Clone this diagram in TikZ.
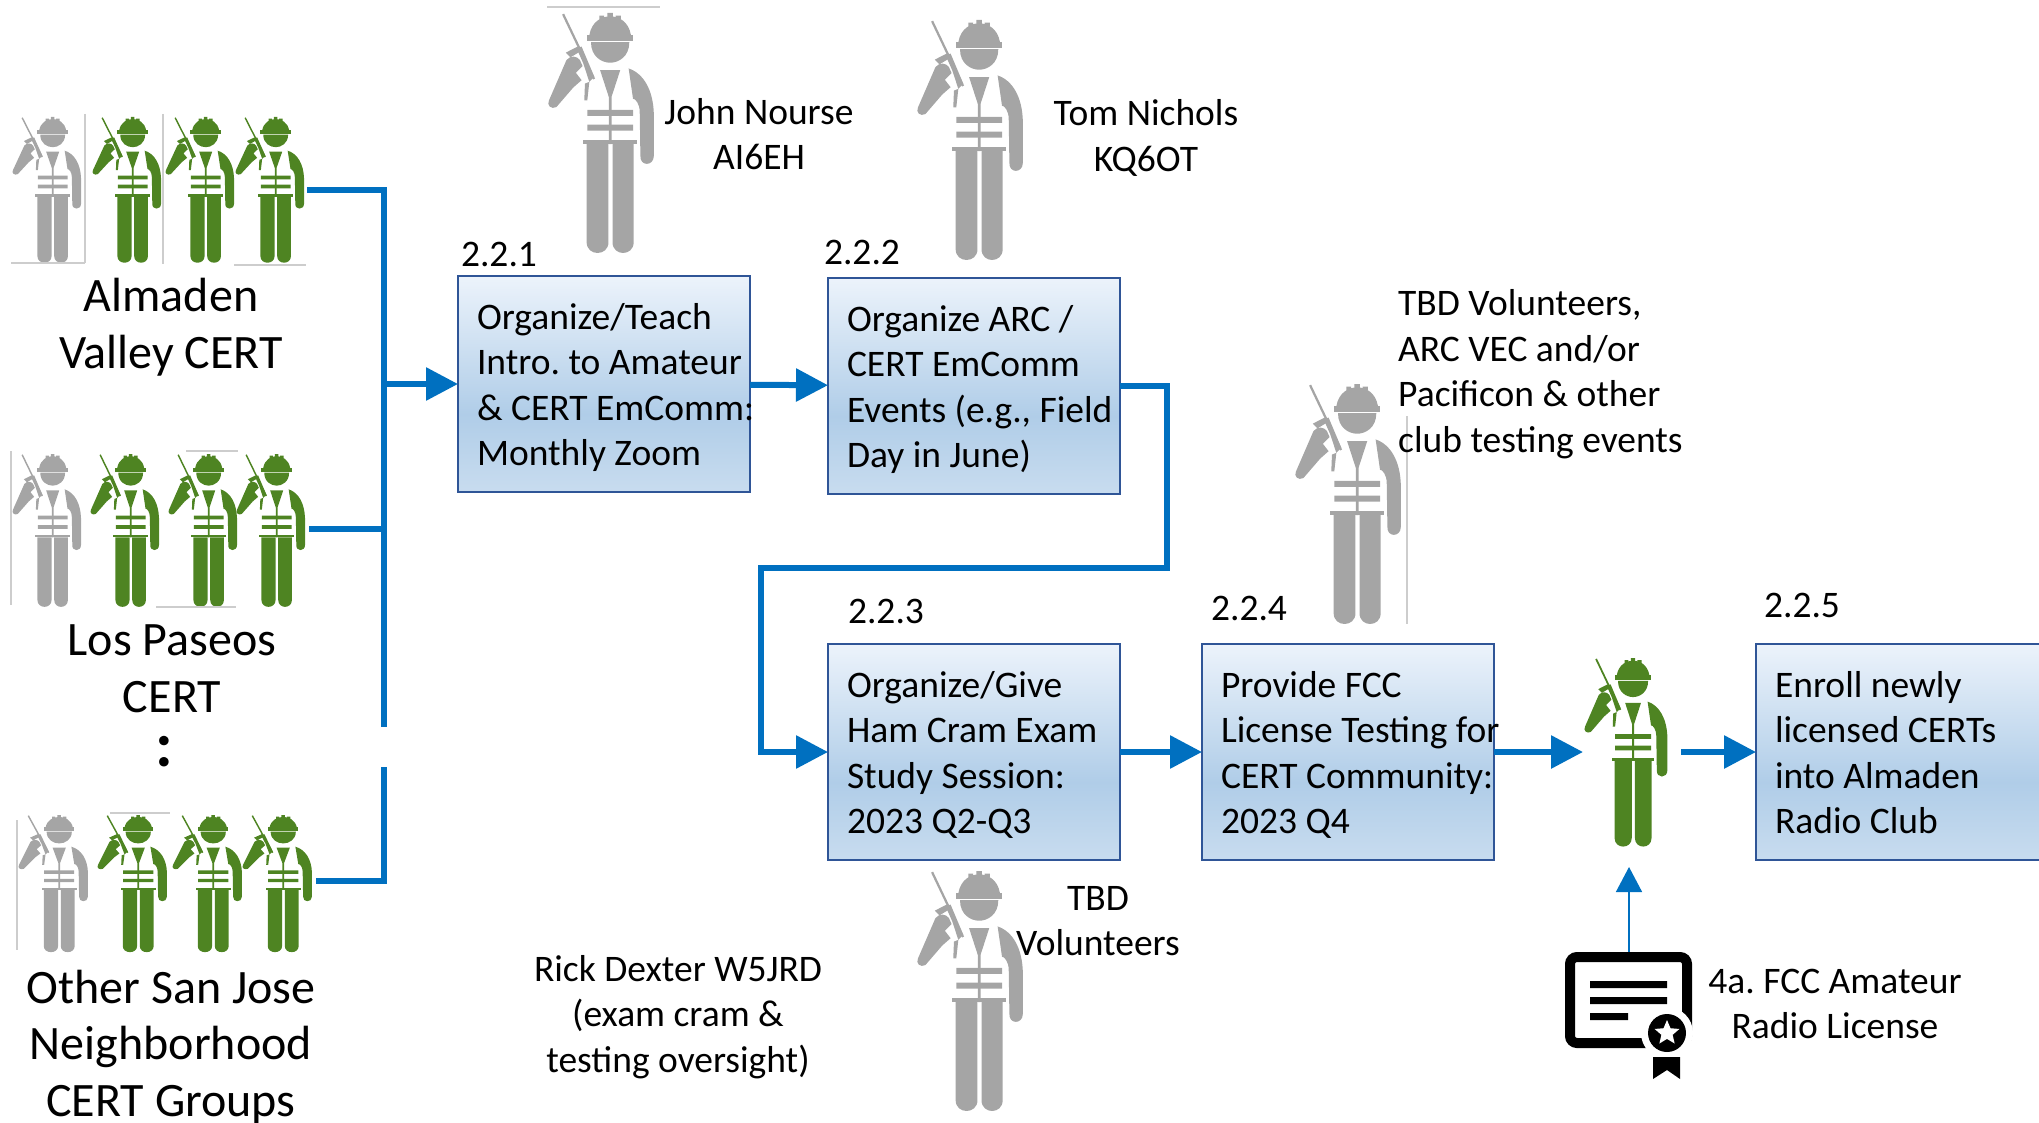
\documentclass[tikz,border=0pt]{standalone}
\usepackage{fontspec}
\setmainfont{Carlito}
\usetikzlibrary{arrows.meta,positioning,shapes.geometric}
\definecolor{flowblue}{RGB}{0, 112, 192}
\definecolor{boxline}{RGB}{47, 85, 151}
\definecolor{boxtop}{RGB}{236, 243, 251}
\definecolor{boxmid}{RGB}{176, 205, 232}
\definecolor{boxlow}{RGB}{200, 220, 239}
\definecolor{workgray}{RGB}{165, 165, 165}
\definecolor{workgreen}{RGB}{78, 132, 34}
\definecolor{cropline}{RGB}{205, 205, 205}
\pgfdeclareverticalshading{boxfill}{100bp}{color(0bp)=(boxlow); color(25bp)=(boxlow); color(43bp)=(boxmid); color(75bp)=(boxtop); color(100bp)=(boxtop)}
\newcommand{\steptext}[1]{\makebox[254pt][l]{\raisebox{-10.6pt}[0pt][0pt]{\begin{tabular}{@{}l@{}}#1\end{tabular}}}}
\tikzset{
  pics/worker/.style={code={
    \begin{scope}[shift={(-58,-40)},fill=#1]
      % gun
      \fill (97,45) -- (103,42) -- (195,235) -- (189,238) -- cycle;
      \fill (140,145) -- (155,140) -- (193,230) -- (178,245) -- (160,190) -- cycle;
      \fill (108,158) -- (143,140) -- (150,155) -- (122,172) -- cycle;
      \fill (165,250) -- (178,245) -- (172,300) -- (163,300) -- cycle;
      % arms
      \fill (58,300) -- (110,180) .. controls (122,165) and (142,168) .. (150,180) -- (158,198) -- (138,218) -- (155,240) -- (130,262) -- (80,320) .. controls (65,328) and (50,315) .. (58,300) -- cycle;
      \fill (295,205) .. controls (340,220) and (368,270) .. (370,340) -- (370,465) .. controls (370,497) and (328,497) .. (330,465) -- (328,335) .. controls (328,310) and (315,295) .. (308,295) -- cycle;
      % helmet and face
      \fill (170,105) rectangle (308,122);
      \fill (178,106) .. controls (185,65) and (215,50) .. (240,50) .. controls (265,50) and (295,65) .. (302,106) -- cycle;
      \fill (208,48) rectangle (222,60) (232,40) rectangle (248,60) (256,48) rectangle (272,60);
      \fill (183,127) -- (297,127) .. controls (297,170) and (265,188) .. (240,188) .. controls (215,188) and (183,170) .. (183,127) -- cycle;
      % vest
      \fill (210,210) -- (270,210) -- (244,290) -- (244,430) -- (236,430) -- (236,290) -- cycle;
      \fill (172,328) rectangle (308,346) (172,372) rectangle (308,390);
      % legs
      \fill (160,418) rectangle (320,430);
      \fill (170,430) -- (235,430) -- (235,722) .. controls (235,765) and (170,765) .. (170,722) -- cycle;
      \fill (247,430) -- (310,430) -- (310,722) .. controls (310,765) and (247,765) .. (247,722) -- cycle;
    \end{scope}
  }},
  stepbox/.style={rectangle, draw=boxline, line width=2.8pt, shading=boxfill, anchor=north west, outer sep=0pt,
    minimum width=292pt, minimum height=216pt, inner xsep=19pt, inner ysep=0pt,
    font=\fontsize{37.5}{45.5}\selectfont\frenchspacing},
  lbl/.style={align=center, inner sep=0pt, font=\fontsize{37.5}{45.5}\selectfont\frenchspacing},
  grouplbl/.style={align=center, inner sep=0pt, font=\fontsize{48}{56.5}\selectfont},
  flow/.style={draw=flowblue, line width=6pt, -{Triangle[length=32pt,width=32pt]}},
  bus/.style={draw=flowblue, line width=6pt},
  crop/.style={draw=cropline, line width=1.2pt}
}
\begin{document}
\begin{tikzpicture}[x=1pt,y=-1pt]
  \useasboundingbox (0,0) rectangle (2039,1123);
  \clip (0,0) rectangle (2039,1123);

  % workers of the groups
  \foreach \wx/\wc in {13/workgray,93/workgreen,166/workgreen,236/workgreen}
    \pic[xscale=.218,yscale=.204] at (\wx,117) {worker=\wc};
  \foreach \wx/\wc in {13/workgray,91/workgreen,169/workgreen,237/workgreen}
    \pic[xscale=.218,yscale=.214] at (\wx,454) {worker=\wc};
  \foreach \wx/\wc in {19/workgray,98/workgreen,173/workgreen,243/workgreen}
    \pic[xscale=.221,yscale=.192] at (\wx,815) {worker=\wc};

  % single workers
  \pic[scale=.336] at (549,13) {worker=workgray};
  \pic[scale=.336] at (918,20) {worker=workgray};
  \pic[scale=.336] at (1296,384) {worker=workgray};
  \pic[scale=.336] at (918,871) {worker=workgray};
  \pic[scale=.264] at (1585,658) {worker=workgreen};

  % image edges
  \foreach \ca/\cb in {{11,263}/{85,263},{85,114}/{85,263},{163,114}/{163,264},{234,265}/{306,265},
      {11,451}/{11,605},{186,451}/{238,451},{156,607}/{236,607},{17,820}/{17,950},{110,813}/{170,813},
      {547,7}/{660,7},{1407,416}/{1407,624}}
    \draw[crop] (\ca) -- (\cb);

  % process boxes
  \node[stepbox] (box1) at (458,276) {\steptext{Organize/Teach\\Intro. to Amateur\\\& CERT EmComm:\\Monthly Zoom}};
  \node[stepbox] (box2) at (828,278) {\steptext{Organize ARC /\\CERT EmComm\\Events (e.g., Field\\Day in June)}};
  \node[stepbox] (box3) at (828,644) {\steptext{Organize/Give\\Ham Cram Exam\\Study Session:\\2023 Q2-Q3}};
  \node[stepbox] (box4) at (1202,644) {\steptext{Provide FCC\\License Testing for\\CERT Community:\\2023 Q4}};
  \node[stepbox] (box5) at (1756,644) {\steptext{Enroll newly\\licensed CERTs\\into Almaden\\Radio Club}};

  % step numbers
  \node[lbl] (num1) at (499,254) {2.2.1};
  \node[lbl] (num2) at (862,252) {2.2.2};
  \node[lbl] (num3) at (886,611) {2.2.3};
  \node[lbl] (num4) at (1249,608) {2.2.4};
  \node[lbl] (num5) at (1802,605) {2.2.5};

  % people and groups
  \node[lbl] (john) at (759,134) {John Nourse\\AI6EH};
  \node[lbl] (tom) at (1146,138) {Tom Nichols\\KQ6OT};
  \node[lbl, align=left, anchor=west] (testers) at (1398,374) {TBD Volunteers,\\ARC VEC and/or\\Pacificon \& other\\club testing events};
  \node[lbl] (tbd) at (1098,921) {TBD\\Volunteers};
  \node[lbl] (rick) at (678,1017) {Rick Dexter W5JRD\\(exam cram \&\\testing oversight)};
  \node[lbl] (fcc) at (1835,1004) {4a. FCC Amateur\\Radio License};
  \node[grouplbl] (almaden) at (171,327) {Almaden\\Valley CERT};
  \node[grouplbl] (paseos) at (172,669) {Los Paseos\\CERT};
  \node[grouplbl] (others) at (171,1047) {Other San Jose\\Neighborhood\\CERT Groups};
  \node[inner sep=0pt, font=\fontsize{64}{64}\selectfont\bfseries] (more) at (164,752) {:};

  % license icon
  \node[draw=black, line width=10pt, rounded corners=7pt, fill=white, minimum width=117pt, minimum height=86pt, inner sep=0pt, anchor=north west] (license) at (1565,952) {};
  \fill (1590,981) rectangle (1667,988) (1590,997) rectangle (1667,1004) (1590,1013) rectangle (1628,1020);
  \fill[white] (1667,1033) circle (26);
  \fill (1667,1033) circle (19);
  \node[star, star points=5, star point ratio=2.2, fill=white, inner sep=0pt, minimum size=26pt] (seal) at (1667,1033) {};
  \fill (1653,1057) -- (1680,1057) -- (1680,1079) -- (1667,1070) -- (1653,1079) -- cycle;

  % connector ends
  \coordinate (out1) at (307,190);
  \coordinate (out2) at (309,529);
  \coordinate (out3) at (316,881);
  \coordinate (busend) at (384,727);
  \coordinate (busstart) at (384,767);
  \coordinate (busjoin) at (384,384);
  \coordinate (newham) at (1583,752);
  \coordinate (hamout) at (1681,752);
  \coordinate (hamfoot) at (1629,867);

  % connectors
  \draw[bus] (out1) -| (busend);
  \draw[bus] (out2) -- (out2 -| busend);
  \draw[bus] (out3) -| (busstart);
  \draw[flow] (busjoin) -- (box1.west);
  \draw[flow] (box1) -- (box2);
  \draw[flow] (box2.east) -- ++(47,0) |- (761,568) |- (box3.west);
  \draw[flow] (box3) -- (box4);
  \draw[flow] (box4.east) -- (newham);
  \draw[flow] (hamout) -- (box5.west);
  \draw[draw=flowblue, line width=1.5pt, -{Triangle[length=25pt,width=26pt]}] (license.north -| hamfoot) -- (hamfoot);
\end{tikzpicture}
\end{document}
